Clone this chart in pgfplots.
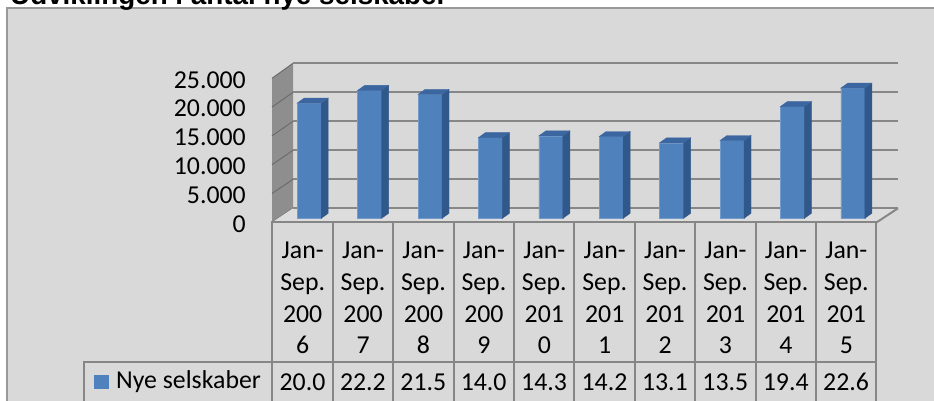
\documentclass[border=0pt]{standalone}
\usepackage{pgfplots}
\pgfplotsset{compat=1.18}
\usepackage{fontspec}
\setmainfont{Carlito}
\newfontfamily\titlefont{Liberation Sans}
\definecolor{bg}{HTML}{D9D9D9}
\definecolor{gridc}{HTML}{878787}
\definecolor{wallc}{HTML}{8E8E8E}
\definecolor{barfront}{HTML}{4F81BD}
\definecolor{barside}{HTML}{31588A}
\definecolor{bartop}{HTML}{3C66A0}
\definecolor{tablec}{HTML}{868686}
\newcommand\tfont{\fontsize{25.8}{31.8}\selectfont}
\begin{document}
\begin{tikzpicture}[x=1pt,y=1pt]
\useasboundingbox (0,0) rectangle (934,401);
\clip (0,0) rectangle (934,401);
\fill[white] (0,0) rectangle (934,401);
\draw[fill=bg, draw=gray!80, line width=1.5pt] (7,393) rectangle (945,-10);
\node[anchor=base west, inner sep=0pt, font=\titlefont\bfseries\fontsize{27.8}{30}\selectfont] at (10,396.5) {Udviklingen i antal nye selskaber};
% left wall
\fill[wallc] (272,322.7) -- (293,337.7) -- (293,192.7) -- (272,178.7) -- cycle;
\foreach \k in {0,...,5} { \draw[gridc!80!black, line width=1pt] (272,322.7-\k*28.8) -- (293,337.7-\k*29); }
% floor
\fill[bg!90!white] (272,178.7) -- (293,192.7) -- (898,192.7) -- (876.7,178.7) -- cycle;
% gridlines
\foreach \k in {0,...,5} { \draw[gridc, line width=2pt] (293,337.7-\k*29) -- (898,337.7-\k*29); }
\draw[gridc, line width=2pt] (876.7,178.7) -- (898,192.7);
% table
\foreach \k in {0,...,10} { \draw[tablec, line width=2pt] (272.3+60.4*\k,178.7) -- (272.3+60.4*\k,-5); }
\draw[tablec, line width=2pt] (271.3,178.7) -- (877.3,178.7);
\draw[tablec, line width=2pt] (83,38.7) -- (877.3,38.7);
\draw[tablec, line width=2pt] (84,38.7) -- (84,-5);
\fill[barfront] (94,11.7) rectangle (109,26);
\node[anchor=base west, font=\tfont, inner sep=0pt] at (116,12) {Nye selskaber};
\foreach \v [count=\i from 0] in {20.0,22.2,21.5,14.0,14.3,14.2,13.1,13.5,19.4,22.6}
  { \node[anchor=base, font=\tfont, inner sep=0pt] at (302.5+60.4*\i,10.3) {\v}; }
\begin{axis}[
  at={(279pt,182.7pt)}, anchor=south west,
  scale only axis, width=604pt, height=144pt,
  xmin=-0.5, xmax=9.5, ymin=0, ymax=25,
  clip=false,
  axis line style={draw=none},
  major tick length=0pt,
  ytick={0,5,10,15,20,25},
  yticklabels={0,5.000,10.000,15.000,20.000,25.000},
  yticklabel style={anchor=east, inner sep=0pt, xshift=-33pt, yshift=-5.5pt, font=\tfont},
  xtick={0,...,9},
  xticklabels={{Jan-\\Sep.\\200\\6},{Jan-\\Sep.\\200\\7},{Jan-\\Sep.\\200\\8},{Jan-\\Sep.\\200\\9},{Jan-\\Sep.\\201\\0},{Jan-\\Sep.\\201\\1},{Jan-\\Sep.\\201\\2},{Jan-\\Sep.\\201\\3},{Jan-\\Sep.\\201\\4},{Jan-\\Sep.\\201\\5}},
  xticklabel style={align=center, anchor=north, inner sep=0pt, xshift=-6.5pt, yshift=-23.4pt, font=\tfont},
]
\addplot[ybar, bar width=24pt, bar shift=0pt, fill=barfront, draw=barfront!80!white, line width=0.6pt]
  coordinates {(0,20.0) (1,22.2) (2,21.5) (3,14.0) (4,14.3) (5,14.2) (6,13.1) (7,13.5) (8,19.4) (9,22.6)};
\addplot[scatter, only marks, mark=*, mark size=0pt, mark options={draw=none,fill=none},
  visualization depends on={rawy \as \ry},
  scatter/@pre marker code/.code={
    \pgfmathsetmacro\h{\ry*5.76}
    \fill[barside] (12pt,0pt) -- (19pt,5pt) -- (19pt,5pt-\h pt) -- (12pt,-\h pt) -- cycle;
    \fill[bartop] (-12pt,0pt) -- (-5pt,5pt) -- (19pt,5pt) -- (12pt,0pt) -- cycle;
  },
  scatter/@post marker code/.code={}
] coordinates {(0,20.0) (1,22.2) (2,21.5) (3,14.0) (4,14.3) (5,14.2) (6,13.1) (7,13.5) (8,19.4) (9,22.6)};
\end{axis}
\end{tikzpicture}
\end{document}
